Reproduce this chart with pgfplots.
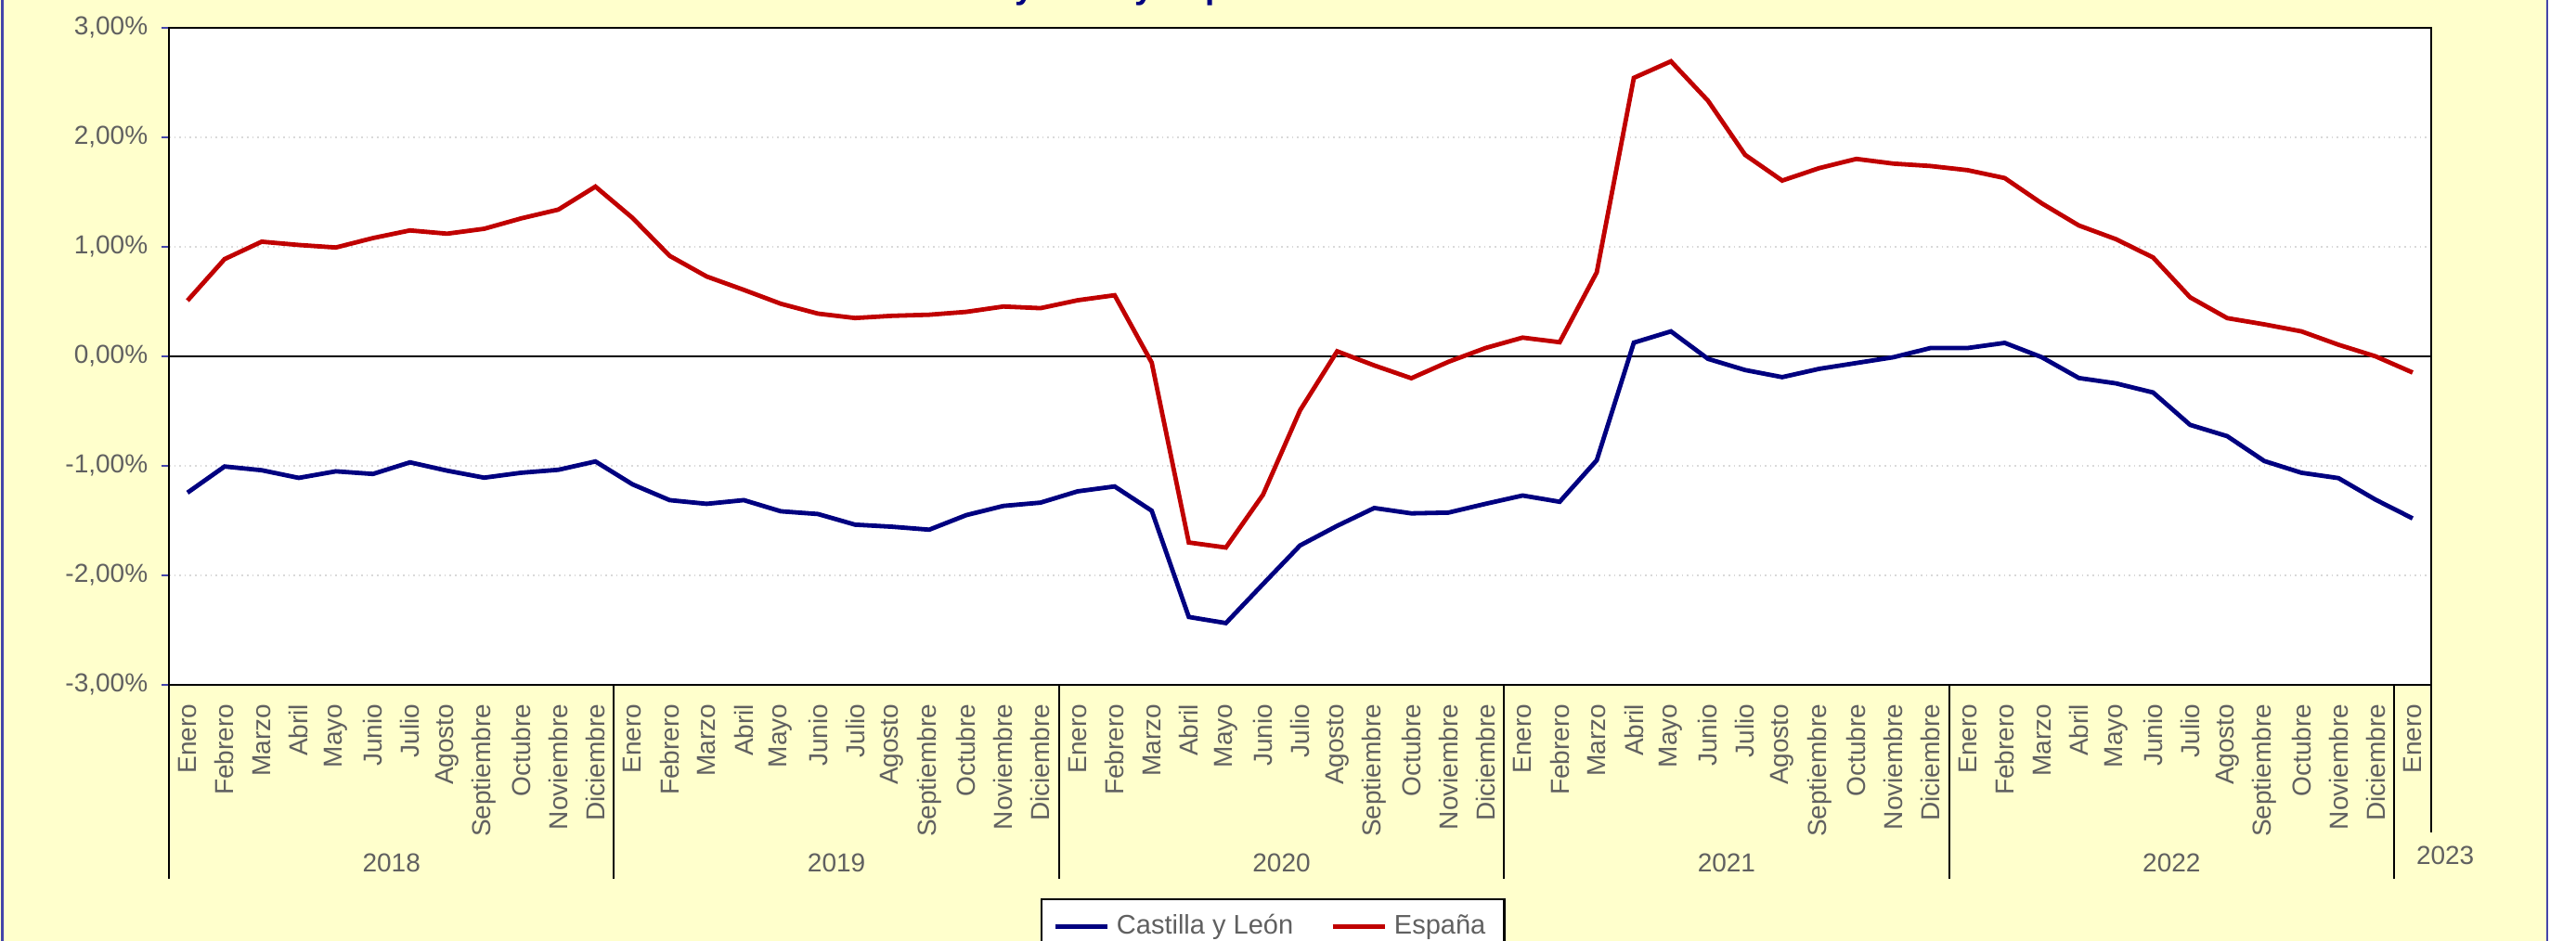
\documentclass[border=0pt]{standalone}
\usepackage{pgfplots}
\usepackage{pgfplotstable}
\pgfplotsset{compat=1.18}
\usepackage{fontspec}
\setmainfont{Liberation Sans}
\definecolor{bgyellow}{HTML}{FFFFCC}
\definecolor{frameblue}{HTML}{4444AA}
\definecolor{cyl}{HTML}{000080}
\definecolor{esp}{HTML}{C00000}
\definecolor{txtgray}{HTML}{606060}
\definecolor{gridgray}{HTML}{D9D9D9}

\pgfplotstableread{
i cyl esp
0 -1.245 0.509
1 -1.006 0.888
2 -1.040 1.047
3 -1.110 1.017
4 -1.050 0.994
5 -1.074 1.080
6 -0.968 1.150
7 -1.044 1.120
8 -1.108 1.165
9 -1.063 1.260
10 -1.036 1.340
11 -0.960 1.550
12 -1.169 1.264
13 -1.313 0.918
14 -1.347 0.729
15 -1.313 0.607
16 -1.415 0.480
17 -1.440 0.390
18 -1.537 0.350
19 -1.556 0.370
20 -1.583 0.380
21 -1.450 0.406
22 -1.366 0.455
23 -1.336 0.440
24 -1.233 0.512
25 -1.188 0.558
26 -1.410 -0.057
27 -2.380 -1.700
28 -2.436 -1.746
29 -2.080 -1.264
30 -1.727 -0.493
31 -1.548 0.046
32 -1.385 -0.083
33 -1.434 -0.200
34 -1.427 -0.050
35 -1.347 0.076
36 -1.271 0.171
37 -1.328 0.129
38 -0.949 0.767
39 0.125 2.543
40 0.228 2.694
41 -0.023 2.334
42 -0.125 1.840
43 -0.190 1.605
44 -0.114 1.719
45 -0.061 1.803
46 -0.008 1.760
47 0.076 1.738
48 0.076 1.700
49 0.123 1.628
50 -0.008 1.397
51 -0.198 1.195
52 -0.247 1.070
53 -0.330 0.903
54 -0.626 0.539
55 -0.729 0.349
56 -0.956 0.292
57 -1.063 0.228
58 -1.112 0.106
59 -1.309 0.000
60 -1.480 -0.148
}\datatable

\newcommand{\lblfont}{\fontsize{7pt}{8.4pt}\selectfont}

\begin{document}
\begin{tikzpicture}
\fill[bgyellow] (0,0) rectangle (686pt,253.5pt);
\draw[frameblue, line width=0.6pt] (0.6pt,0) -- (0.6pt,253.5pt);
\draw[frameblue, line width=0.6pt] (686pt,0) -- (686pt,253.5pt);
\node[anchor=base west, inner sep=0pt, font=\bfseries\fontsize{9.2pt}{11pt}\selectfont, text=cyl] at (238pt,253.9pt) {Castilla y León y España};
\begin{axis}[
  at={(45.5pt,69pt)}, anchor=south west,
  width=609.25pt, height=177pt, scale only axis,
  xmin=-0.5, xmax=60.5, ymin=-3, ymax=3,
  clip=false,
  axis background/.style={fill=white},
  axis line style={black, line width=0.6pt},
  ytick={-3,-2,-1,0,1,2,3},
  yticklabels={{-3,00\%},{-2,00\%},{-1,00\%},{0,00\%},{1,00\%},{2,00\%},{3,00\%}},
  ytick pos=left,
  xtick pos=bottom,
  ymajorgrids,
  major grid style={gridgray, densely dotted, line width=0.4pt},
  tick align=outside,
  major tick length=2pt,
  ytick style={frameblue, line width=0.5pt},
  xtick={0,...,60},
  xtick style={draw=none},
  xticklabels={Enero,Febrero,Marzo,Abril,Mayo,Junio,Julio,Agosto,Septiembre,Octubre,Noviembre,Diciembre,
               Enero,Febrero,Marzo,Abril,Mayo,Junio,Julio,Agosto,Septiembre,Octubre,Noviembre,Diciembre,
               Enero,Febrero,Marzo,Abril,Mayo,Junio,Julio,Agosto,Septiembre,Octubre,Noviembre,Diciembre,
               Enero,Febrero,Marzo,Abril,Mayo,Junio,Julio,Agosto,Septiembre,Octubre,Noviembre,Diciembre,
               Enero,Febrero,Marzo,Abril,Mayo,Junio,Julio,Agosto,Septiembre,Octubre,Noviembre,Diciembre,
               Enero},
  xticklabel style={rotate=90, anchor=east, inner sep=0pt, font=\lblfont, text=txtgray},
  xticklabel shift=3pt,
  yticklabel style={font=\lblfont, text=txtgray, inner sep=0pt},
  yticklabel shift=3.5pt,
  legend style={at={(0.488,-0.3249)}, anchor=north, legend columns=2,
    draw=black, line width=0.6pt, fill=white, font=\fontsize{7.25pt}{8.7pt}\selectfont, text=txtgray,
    /tikz/every even column/.append style={column sep=8pt}},
  legend image code/.code={\draw[#1] (0pt,0pt) -- (14pt,0pt);},
]
\draw[black, line width=0.6pt] (axis cs:-0.5,0) -- (axis cs:60.5,0);
\addplot[cyl, line width=1.2pt] table[x=i,y=cyl]{\datatable};
\addlegendentry{Castilla y León}
\addplot[esp, line width=1.2pt] table[x=i,y=esp]{\datatable};
\addlegendentry{España}
\pgfplotsinvokeforeach{-0.5,11.5,23.5,35.5,47.5,59.5}{
  \draw[black, line width=0.5pt] (axis cs:#1,-3) -- (axis cs:#1,-4.771);
}
\draw[black, line width=0.5pt] (axis cs:60.5,-3) -- (axis cs:60.5,-4.347);
\node[font=\lblfont, text=txtgray] at (axis cs:5.5,-4.627) {2018};
\node[font=\lblfont, text=txtgray] at (axis cs:17.5,-4.627) {2019};
\node[font=\lblfont, text=txtgray] at (axis cs:29.5,-4.627) {2020};
\node[font=\lblfont, text=txtgray] at (axis cs:41.5,-4.627) {2021};
\node[font=\lblfont, text=txtgray] at (axis cs:53.5,-4.627) {2022};
\node[font=\lblfont, text=txtgray] at (axis cs:60.88,-4.559) {2023};
\end{axis}
\pgfresetboundingbox
\path[use as bounding box] (0,0) rectangle (693.75pt,253.5pt);
\end{tikzpicture}
\end{document}
